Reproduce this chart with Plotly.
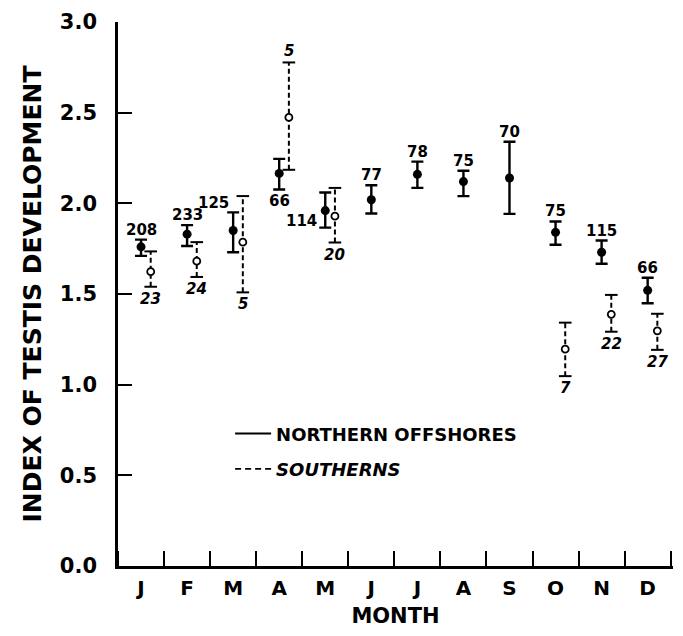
import plotly.graph_objects as go

months = ["J", "F", "M", "A", "M", "J", "J", "A", "S", "O", "N", "D"]

# Northern offshores (all 12 months)
north_mean = [1.76, 1.83, 1.85, 2.165, 1.96, 2.02, 2.16, 2.12, 2.14, 1.84, 1.73, 1.52]
north_hi   = [1.80, 1.88, 1.95, 2.245, 2.06, 2.10, 2.23, 2.18, 2.34, 1.90, 1.795, 1.59]
north_lo   = [1.71, 1.765, 1.73, 2.076, 1.866, 1.944, 2.085, 2.04, 1.942, 1.772, 1.667, 1.449]
north_n    = ["208", "233", "125", "66", "114", "77", "78", "75", "70", "75", "115", "66"]

# Southerns (subset of months, index into months)
south_idx  = [0, 1, 2, 3, 4, 9, 10, 11]
south_mean = [1.623, 1.681, 1.786, 2.474, 1.929, 1.196, 1.388, 1.297]
south_hi   = [1.735, 1.786, 2.04, 2.777, 2.085, 1.342, 1.495, 1.391]
south_lo   = [1.54, 1.594, 1.509, 2.185, 1.784, 1.047, 1.292, 1.192]
south_n    = ["23", "24", "5", "5", "20", "7", "22", "27"]

FONT = "DejaVu Sans"
S_OFFSET = 0.21

xn = [i + 0.5 for i in range(12)]
xs = [i + 0.5 + S_OFFSET for i in south_idx]

fig = go.Figure()

# Northern: solid error bars + filled markers
fig.add_trace(go.Scatter(
    x=xn, y=north_mean, mode="markers",
    marker=dict(symbol="circle", size=9, color="black"),
    error_y=dict(type="data", symmetric=False,
                 array=[h - m for h, m in zip(north_hi, north_mean)],
                 arrayminus=[m - l for m, l in zip(north_mean, north_lo)],
                 color="black", thickness=2.4, width=6),
    showlegend=False, cliponaxis=False))

# Southern: dashed error bars
lx, ly = [], []
for x, lo, hi in zip(xs, south_lo, south_hi):
    lx += [x, x, None]
    ly += [lo, hi, None]
fig.add_trace(go.Scatter(x=lx, y=ly, mode="lines",
                         line=dict(color="black", width=2, dash="5px,3px"),
                         showlegend=False, cliponaxis=False))
# Southern caps
fig.add_trace(go.Scatter(
    x=xs + xs, y=south_lo + south_hi, mode="markers",
    marker=dict(symbol="line-ew", size=9, line=dict(color="black", width=2)),
    showlegend=False, cliponaxis=False))
# Southern open markers
fig.add_trace(go.Scatter(
    x=xs, y=south_mean, mode="markers",
    marker=dict(symbol="circle", size=7, color="white",
                line=dict(color="black", width=1.8)),
    showlegend=False, cliponaxis=False))

# Legend entries
fig.add_trace(go.Scatter(x=[None], y=[None], mode="lines",
                         line=dict(color="black", width=1.8),
                         name="NORTHERN OFFSHORES", legendgroup="a"))
fig.add_trace(go.Scatter(x=[None], y=[None], mode="lines",
                         line=dict(color="black", width=1.8, dash="6px,4px"),
                         name="<i>SOUTHERNS</i>", legendgroup="b"))

lab_font = dict(family=FONT, size=15, color="black", weight="bold")
annotations = []
# Northern sample sizes
for i, (x, lo, hi, m, n) in enumerate(zip(xn, north_lo, north_hi, north_mean, north_n)):
    if i == 3:
        annotations.append(dict(x=x, y=lo, text=n, showarrow=False, yshift=-11,
                                xanchor="center", yanchor="middle", font=lab_font))
    elif i == 2:
        annotations.append(dict(x=x, y=hi, text=n, showarrow=False, yshift=9, xshift=-2,
                                xanchor="right", yanchor="middle", font=lab_font))
    elif i == 4:
        annotations.append(dict(x=x, y=m, text=n, showarrow=False, yshift=-10, xshift=-6,
                                xanchor="right", yanchor="middle", font=lab_font))
    else:
        annotations.append(dict(x=x, y=hi, text=n, showarrow=False, yshift=10,
                                xanchor="center", yanchor="middle", font=lab_font))
# Southern sample sizes (italic)
for k, (x, lo, hi, n) in enumerate(zip(xs, south_lo, south_hi, south_n)):
    if south_idx[k] == 3:
        annotations.append(dict(x=x, y=hi, text="<i>" + n + "</i>", showarrow=False, yshift=11,
                                xanchor="center", yanchor="middle", font=lab_font))
    else:
        annotations.append(dict(x=x, y=lo, text="<i>" + n + "</i>", showarrow=False, yshift=-12,
                                xanchor="center", yanchor="middle", font=lab_font))

fig.update_layout(
    width=683, height=636,
    margin=dict(l=118, r=10, t=14, b=70),
    plot_bgcolor="white", paper_bgcolor="white",
    font=dict(family=FONT, color="black"),
    annotations=annotations,
    showlegend=True,
    legend=dict(x=0.202, y=0.277, xanchor="left", yanchor="top",
                font=dict(family=FONT, size=18, color="black", weight="bold"),
                bgcolor="rgba(0,0,0,0)", traceorder="grouped", tracegroupgap=9,
                itemwidth=36),
)

fig.update_xaxes(
    range=[0, 12.05], showgrid=False, zeroline=False,
    showline=True, linecolor="black", linewidth=2.5,
    tickmode="array", tickvals=xn, ticktext=months, ticks="",
    tickfont=dict(family=FONT, size=20, color="black", weight="bold"),
    ticklabelstandoff=2,
    minor=dict(tick0=0, dtick=1, ticks="inside", ticklen=15, tickwidth=2, tickcolor="black"),
    title=dict(text="MONTH", standoff=10,
               font=dict(family=FONT, size=21, color="black", weight="bold")),
)
fig.update_yaxes(
    range=[0, 3.0], showgrid=False, zeroline=False,
    showline=True, linecolor="black", linewidth=2.5,
    tickmode="array", tickvals=[0, 0.5, 1.0, 1.5, 2.0, 2.5, 3.0],
    ticktext=["0.0", "0.5", "1.0", "1.5", "2.0", "2.5", "3.0"],
    ticks="inside", ticklen=14, tickwidth=2, tickcolor="black",
    ticklabelstandoff=14,
    tickfont=dict(family=FONT, size=21, color="black", weight="bold"),
    title=dict(text="INDEX OF TESTIS DEVELOPMENT", standoff=12,
               font=dict(family=FONT, size=25, color="black", weight="bold")),
)

fig.write_html("out.html")
